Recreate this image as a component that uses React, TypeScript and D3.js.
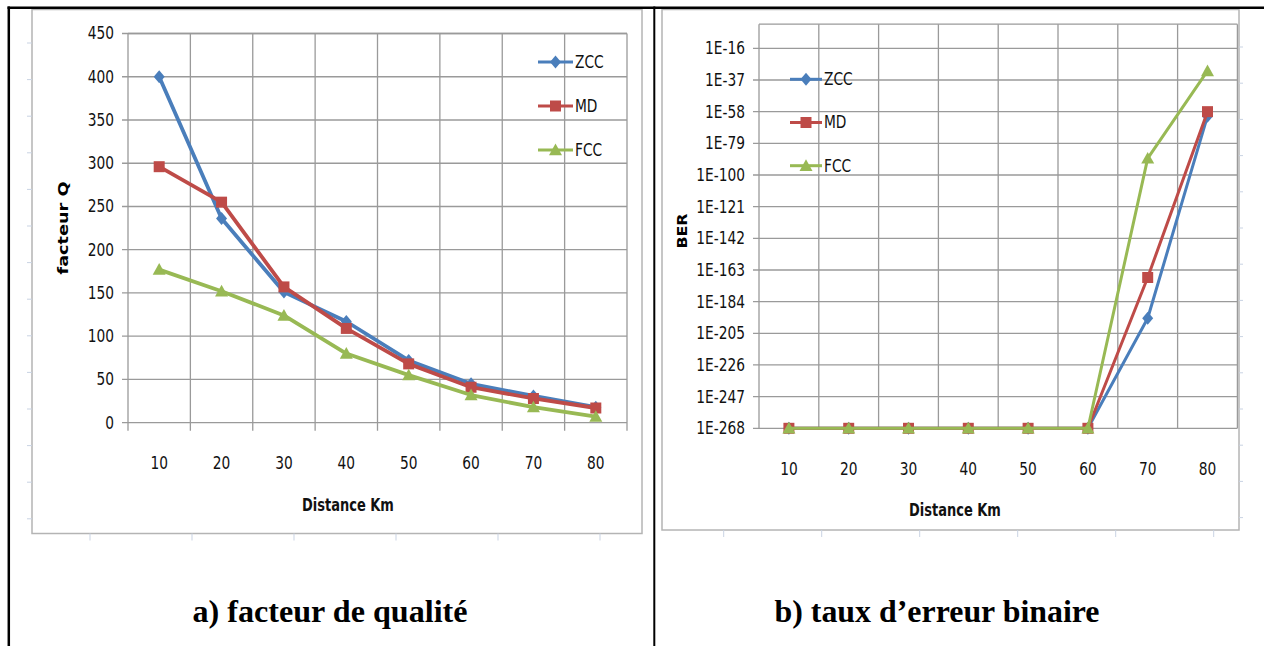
import React from "react";
import { scaleBand, scaleLinear, scaleLog, line, range } from "d3";

// distances in km (x categories)
const distances = [10, 20, 30, 40, 50, 60, 70, 80];

// a) quality factor Q
const qZcc = [400, 236, 151, 117, 72, 45, 31, 18];
const qMd = [296, 255, 157, 109, 68, 41, 28, 17];
const qFcc = [177, 152, 124, 80, 55, 32, 18, 7];
const qTicks = [0, 50, 100, 150, 200, 250, 300, 350, 400, 450];

// b) bit error rate (values below the axis minimum sit on 1E-268)
const berZcc = [1e-268, 1e-268, 1e-268, 1e-268, 1e-268, 1e-268, 1e-195, 1e-61];
const berMd = [1e-268, 1e-268, 1e-268, 1e-268, 1e-268, 1e-268, 1e-168, 1e-58];
const berFcc = [1e-268, 1e-268, 1e-268, 1e-268, 1e-268, 1e-268, 1e-89, 1e-31];
const berTickExps = [-268, -247, -226, -205, -184, -163, -142, -121, -100, -79, -58, -37, -16];

const seriesNames = ["ZCC", "MD", "FCC"];
const colors = ["#4a7ebb", "#be4b48", "#98b954"];
const shapes = ["diamond", "square", "triangle"];

const FONT = "'Liberation Sans Narrow', 'DejaVu Sans Condensed', 'Arial Narrow', sans-serif";
const SERIF = "'Liberation Serif', 'Times New Roman', serif";
const GRID = "#9a9a9a";

const markerPath = (shape, cx, cy, s = 1) => {
    if (shape === "diamond") {
        const w = 5.5 * s, h = 6.5 * s;
        return `M${cx},${cy - h}L${cx + w},${cy}L${cx},${cy + h}L${cx - w},${cy}Z`;
    }
    if (shape === "square") {
        const r = 5.5 * s;
        return `M${cx - r},${cy - r}h${2 * r}v${2 * r}h${-2 * r}Z`;
    }
    const w = 6.5 * s, h = 6.5 * s;
    return `M${cx},${cy - h}L${cx + w},${cy + h * 0.8}L${cx - w},${cy + h * 0.8}Z`;
};

// text squeezed a little horizontally, like the narrow chart font in the picture
const Label = ({x, y, anchor = "start", size = 17, weight = "normal", sx = 0.9, children}) => (
    <g transform={`translate(${x},${y}) scale(${sx},1)`}>
        <text dy="0.35em" textAnchor={anchor} fontSize={size} fontWeight={weight} fill="#111">
            {children}
        </text>
    </g>
);

const Chart = (props) => {
    const {
        frame, plot, yScale, yTicks, fmt, data, legend, yLabel, xLabel,
        tickLabelY, strokeW, bottomTicks, decoLeft, decoRight, decoBottom
    } = props;

    const xScale = scaleBand()
        .domain(distances.map(String))
        .range([plot.x0, plot.x1])
        .padding(0);
    const bw = xScale.bandwidth();
    const bounds = range(distances.length + 1).map(i => plot.x0 + i * bw);
    const cx = d => xScale(String(d)) + bw / 2;
    const [yBottom, yTop] = yScale.range();

    const path = line()
        .x((d, i) => cx(distances[i]))
        .y(d => yScale(d));

    return (
        <g fontFamily={FONT}>
            {/* chart frame */}
            <rect x={frame.x0} y={frame.y0} width={frame.x1 - frame.x0} height={frame.y1 - frame.y0}
                  fill="#fff" stroke="#b4b4b4" strokeWidth={1.5}/>

            {/* faint ruler marks around the frame */}
            {decoLeft && range(decoLeft.from, decoLeft.to, decoLeft.step).map((y, i) =>
                <line key={"dl" + i} x1={frame.x0 - 5} x2={frame.x0} y1={y} y2={y} stroke="#c9d3e3" strokeWidth={1}/>)}
            {decoRight && range(decoRight.from, decoRight.to, decoRight.step).map((y, i) =>
                <line key={"dr" + i} x1={frame.x1} x2={frame.x1 + 4} y1={y} y2={y} stroke="#c9d3e3" strokeWidth={1}/>)}
            {decoBottom && range(decoBottom.from, decoBottom.to, decoBottom.step).map((x, i) =>
                <line key={"db" + i} x1={x} x2={x} y1={frame.y1} y2={frame.y1 + 7} stroke="#c9d3e3" strokeWidth={1}/>)}

            {/* horizontal grid + y ticks */}
            {yTicks.map((t, i) => (
                <g key={"yt" + i}>
                    <line x1={plot.x0 - 6} x2={plot.x1} y1={yScale(t)} y2={yScale(t)}
                          stroke={GRID} strokeWidth={1.3}/>
                    <Label x={plot.x0 - 14} y={yScale(t)} anchor="end">{fmt(t)}</Label>
                </g>
            ))}
            <line x1={plot.x0} x2={plot.x1} y1={yTop} y2={yTop} stroke={GRID} strokeWidth={1.3}/>

            {/* vertical grid at category boundaries */}
            {bounds.map((b, i) => (
                <line key={"vb" + i} x1={b} x2={b} y1={yTop}
                      y2={yBottom + (bottomTicks ? 8 : 0)} stroke={GRID} strokeWidth={1.3}/>
            ))}

            {/* x tick labels */}
            {distances.map(d => (
                <Label key={"xl" + d} x={cx(d)} y={tickLabelY} anchor="middle">{d}</Label>
            ))}

            {/* axis titles */}
            <Label x={xLabel.x} y={xLabel.y} anchor="middle" weight="bold" sx={0.85}>Distance Km</Label>
            <text transform={`translate(${yLabel.x},${yLabel.y}) rotate(-90)`} dy="0.35em"
                  textAnchor="middle" fontSize={14} fontWeight="bold" fill="#000"
                  textLength={yLabel.len} lengthAdjust="spacingAndGlyphs">{yLabel.text}</text>

            {/* series */}
            {data.map((vals, s) => (
                <g key={"s" + s}>
                    <path d={path(vals)} fill="none" stroke={colors[s]} strokeWidth={strokeW}
                          strokeLinejoin="round"/>
                    {vals.map((v, i) => (
                        <path key={i} d={markerPath(shapes[s], cx(distances[i]), yScale(v))}
                              fill={colors[s]}/>
                    ))}
                </g>
            ))}

            {/* legend */}
            {seriesNames.map((n, s) => {
                const ly = legend.y0 + s * legend.step;
                return (
                    <g key={"lg" + n}>
                        <line x1={legend.x} x2={legend.x + legend.len} y1={ly} y2={ly}
                              stroke={colors[s]} strokeWidth={3}/>
                        <path d={markerPath(shapes[s], legend.x + legend.len / 2, ly)} fill={colors[s]}/>
                        <Label x={legend.x + legend.len + 2} y={ly}>{n}</Label>
                    </g>
                );
            })}
        </g>
    );
};

const App = () => {
    const qScale = scaleLinear().domain([0, 450]).range([422.7, 33.5]);
    const berScale = scaleLog().domain([1e-268, 1]).range([428.3, 24.2]);
    const berTicks = berTickExps.map(e => Math.pow(10, e));

    return (
        <svg width={1264} height={646} style={{position: "absolute", left: 0, top: 0, background: "#fff"}}>
            <rect x={0} y={0} width={1264} height={646} fill="#fff"/>

            <Chart
                frame={{x0: 32, y0: 9.5, x1: 642, y1: 533.5}}
                plot={{x0: 128, x1: 627}}
                yScale={qScale}
                yTicks={qTicks}
                fmt={t => String(t)}
                data={[qZcc, qMd, qFcc]}
                legend={{x: 538, len: 35, y0: 62, step: 44}}
                yLabel={{x: 63, y: 228, text: "facteur Q", len: 93}}
                xLabel={{x: 348, y: 505}}
                tickLabelY={463}
                strokeW={3.8}
                bottomTicks={true}
                decoLeft={{from: 43, to: 530, step: 36.6}}
                decoBottom={{from: 90, to: 640, step: 102}}
            />

            <Chart
                frame={{x0: 662, y0: 9.5, x1: 1239, y1: 530}}
                plot={{x0: 759, x1: 1237.4}}
                yScale={berScale}
                yTicks={berTicks}
                fmt={t => `1E${Math.round(Math.log10(t))}`}
                data={[berZcc, berMd, berFcc]}
                legend={{x: 790, len: 32, y0: 79.3, step: 43.2}}
                yLabel={{x: 682, y: 231, text: "BER", len: 35}}
                xLabel={{x: 955, y: 510}}
                tickLabelY={469}
                strokeW={3}
                bottomTicks={false}
                decoRight={{from: 47, to: 525, step: 36.2}}
                decoBottom={{from: 723.7, to: 1230, step: 98}}
            />

            {/* table borders */}
            <line x1={7.5} x2={1264} y1={7.8} y2={7.8} stroke="#000" strokeWidth={2.5}/>
            <line x1={8.8} x2={8.8} y1={6.5} y2={646} stroke="#000" strokeWidth={2.5}/>
            <line x1={654.3} x2={654.3} y1={6.5} y2={646} stroke="#000" strokeWidth={2}/>

            {/* captions */}
            <text x={330} y={622} textAnchor="middle" fontFamily={SERIF} fontWeight="bold" fontSize={31}
                  fill="#000" textLength={275} lengthAdjust="spacingAndGlyphs">a) facteur de qualité</text>
            <text x={937} y={622} textAnchor="middle" fontFamily={SERIF} fontWeight="bold" fontSize={31}
                  fill="#000" textLength={325} lengthAdjust="spacingAndGlyphs">b) taux d’erreur binaire</text>
        </svg>
    );
};

export default App;
